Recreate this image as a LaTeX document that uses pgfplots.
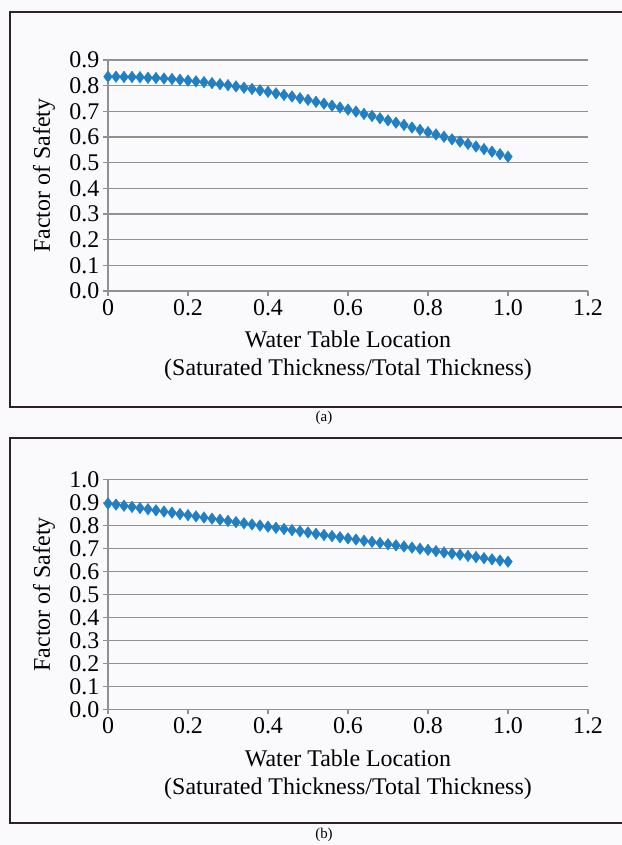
\documentclass[border=0pt]{standalone}
\usepackage{pgfplots}
\pgfplotsset{compat=1.18}
\usepackage{fontspec}
\setmainfont{Liberation Serif}
\definecolor{mk}{RGB}{33,128,196}
\definecolor{gridc}{RGB}{145,145,145}
\definecolor{framec}{RGB}{45,35,35}
\definecolor{bgc}{RGB}{250,250,252}
\pgfplotstableread{
x y
0.00 0.835
0.02 0.835
0.04 0.834
0.06 0.834
0.08 0.833
0.10 0.831
0.12 0.830
0.14 0.828
0.16 0.826
0.18 0.823
0.20 0.820
0.22 0.817
0.24 0.814
0.26 0.810
0.28 0.806
0.30 0.802
0.32 0.797
0.34 0.792
0.36 0.787
0.38 0.782
0.40 0.776
0.42 0.770
0.44 0.764
0.46 0.758
0.48 0.751
0.50 0.745
0.52 0.737
0.54 0.730
0.56 0.722
0.58 0.715
0.60 0.707
0.62 0.699
0.64 0.690
0.66 0.682
0.68 0.673
0.70 0.665
0.72 0.656
0.74 0.647
0.76 0.637
0.78 0.628
0.80 0.619
0.82 0.610
0.84 0.601
0.86 0.591
0.88 0.582
0.90 0.573
0.92 0.563
0.94 0.553
0.96 0.543
0.98 0.533
1.00 0.523
}\dataA
\pgfplotstableread{
x y
0.00 0.895
0.02 0.890
0.04 0.885
0.06 0.880
0.08 0.875
0.10 0.870
0.12 0.865
0.14 0.860
0.16 0.855
0.18 0.849
0.20 0.844
0.22 0.839
0.24 0.834
0.26 0.829
0.28 0.824
0.30 0.819
0.32 0.814
0.34 0.809
0.36 0.804
0.38 0.799
0.40 0.794
0.42 0.789
0.44 0.784
0.46 0.779
0.48 0.774
0.50 0.769
0.52 0.763
0.54 0.758
0.56 0.753
0.58 0.748
0.60 0.743
0.62 0.738
0.64 0.733
0.66 0.728
0.68 0.723
0.70 0.718
0.72 0.713
0.74 0.708
0.76 0.703
0.78 0.698
0.80 0.693
0.82 0.688
0.84 0.682
0.86 0.677
0.88 0.672
0.90 0.667
0.92 0.662
0.94 0.657
0.96 0.652
0.98 0.647
1.00 0.642
}\dataB
\pgfplotsset{
  panel/.style={
    scale only axis, width=480bp, clip=false,
    xmin=0, xmax=1.2, ymin=0,
    axis lines*=left,
    axis line style={gridc, line width=1.3bp},
    tick style={gridc, line width=1.2bp},
    tick align=outside, major tick length=5bp,
    ymajorgrids, grid style={gridc, line width=1.3bp},
    xtick={0,0.2,0.4,0.6,0.8,1.0,1.2},
    xticklabels={0,0.2,0.4,0.6,0.8,1.0,1.2},
    /pgf/number format/assume math mode=true,
    yticklabel style={/pgf/number format/.cd, fixed, fixed zerofill, precision=1},
    ticklabel style={font=\fontsize{24}{28}\selectfont, inner sep=3.5bp},
    label style={font=\fontsize{24}{28}\selectfont},
    xlabel={Water Table Location\\(Saturated Thickness/Total Thickness)},
    xlabel style={align=center, anchor=center},
    ylabel={Factor of Safety},
    ylabel style={anchor=center, at={(axis description cs:-0.1333,0.5)}},
  }
}
\begin{document}
\begin{tikzpicture}
\useasboundingbox (0,0) rectangle (622bp,-845bp);
\fill[bgc] (0,0) rectangle (622bp,-845bp);
\draw[framec, line width=1.5bp] (10bp,-12bp) rectangle (640bp,-407bp);
\draw[framec, line width=1.5bp] (10bp,-438bp) rectangle (640bp,-823bp);
\node[font=\fontsize{15}{17}\selectfont] at (324bp,-418bp) {(a)};
\node[font=\fontsize{15}{17}\selectfont] at (324bp,-835bp) {(b)};
\begin{axis}[panel, height=231bp, ymax=0.9,
  ytick={0,0.1,0.2,0.3,0.4,0.5,0.6,0.7,0.8,0.9},
  xlabel style={at={(axis description cs:0.5,-0.2814)}},
  at={(108bp,-291bp)}, anchor=south west]
\addplot[only marks, mark=diamond*, mark size=5.8bp, color=mk] table[x=x,y=y] {\dataA};
\end{axis}
\begin{axis}[panel, height=230bp, ymax=1.0,
  ytick={0,0.1,0.2,0.3,0.4,0.5,0.6,0.7,0.8,0.9,1.0},
  xlabel style={at={(axis description cs:0.5,-0.2826)}},
  at={(108bp,-709.3bp)}, anchor=south west]
\addplot[only marks, mark=diamond*, mark size=5.8bp, color=mk] table[x=x,y=y] {\dataB};
\end{axis}
\end{tikzpicture}
\end{document}
